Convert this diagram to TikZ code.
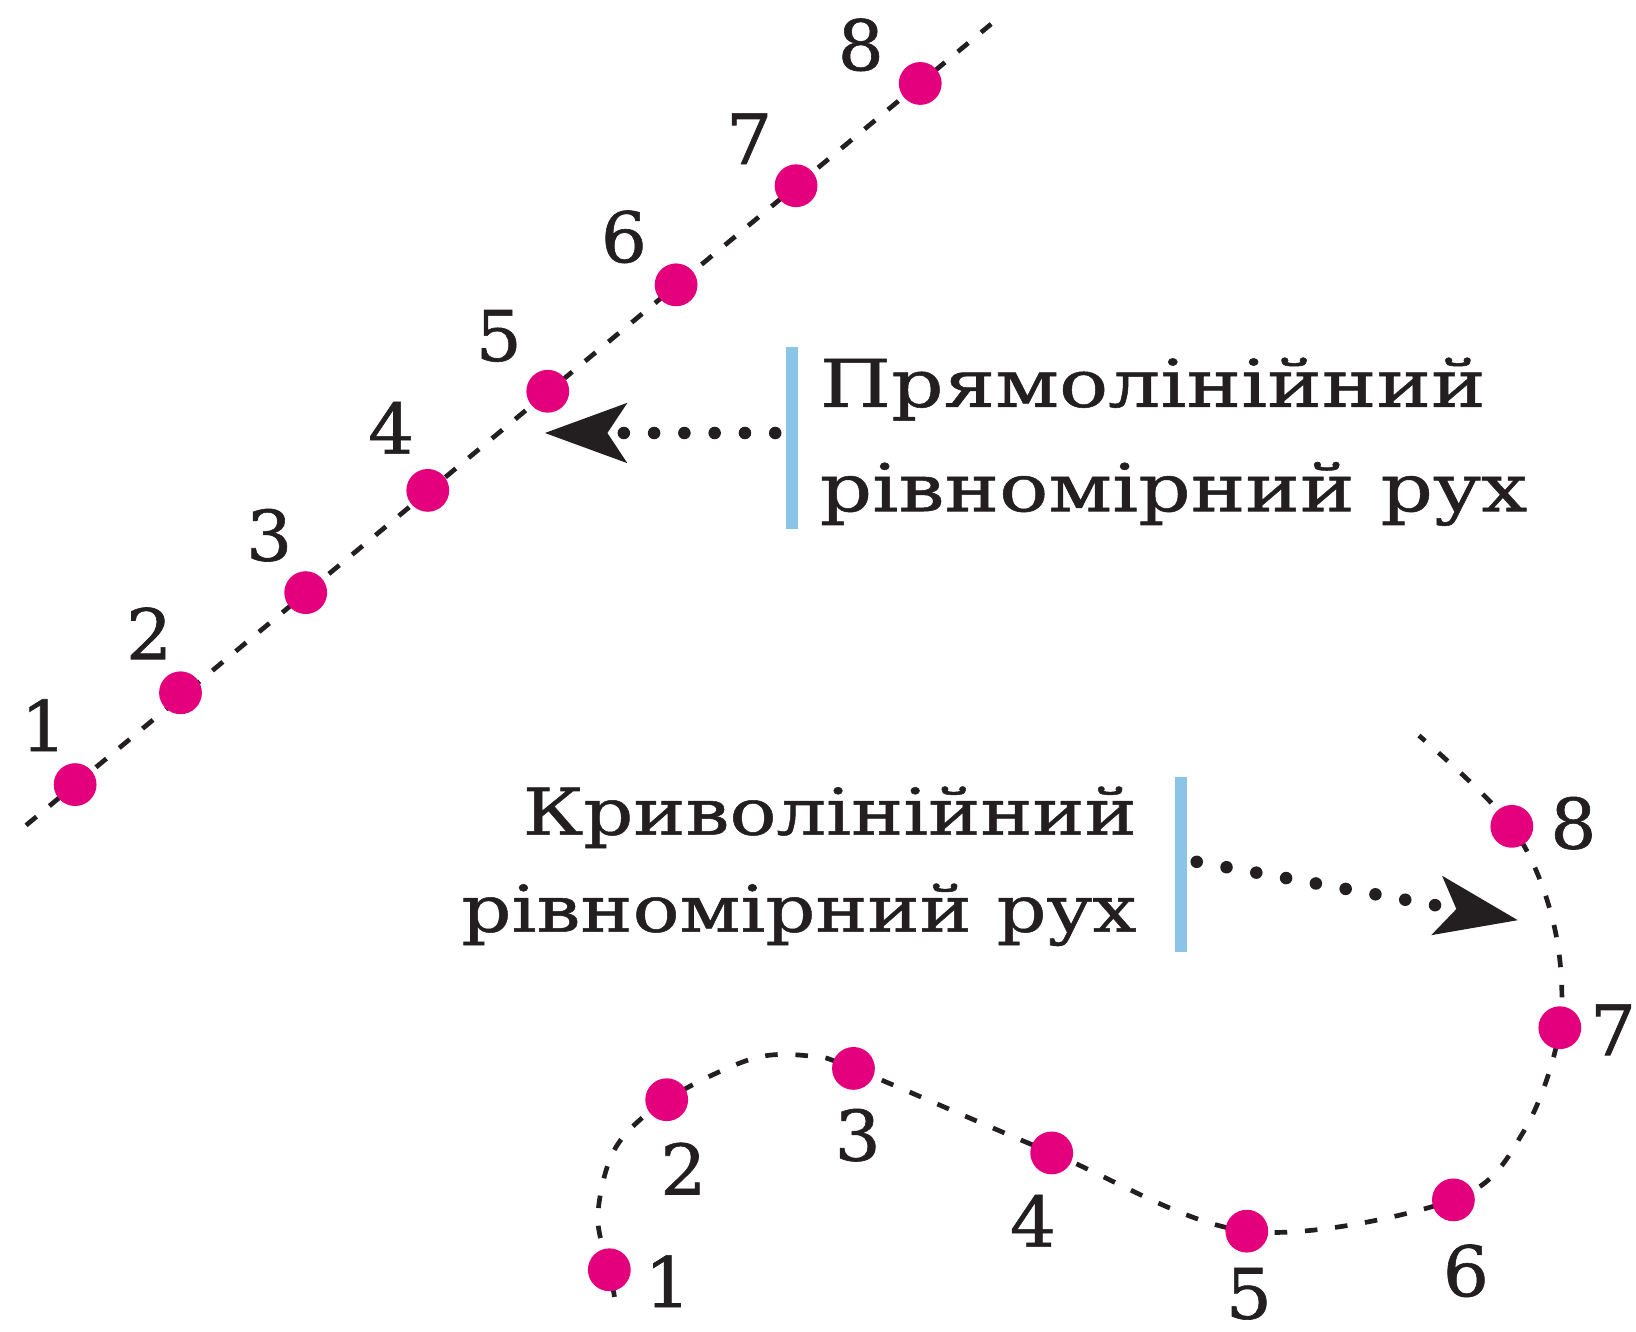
\documentclass[tikz,border=0pt]{standalone}
\usepackage{fontspec}
\setmainfont{DejaVu Serif}[FakeBold=0.8]
\newfontfamily\wideserif{DejaVu Serif}[FakeStretch=1.24,FakeBold=0.8]
\newfontfamily\midserif{DejaVu Serif}[FakeStretch=1.21,FakeBold=0.8]
\newfontfamily\digitserif{DejaVu Serif}[FakeStretch=1.04,FakeBold=0.9]
\usetikzlibrary{arrows.meta}
\definecolor{dotpink}{RGB}{228,0,125}
\definecolor{barblue}{RGB}{140,196,232}
\definecolor{ink}{RGB}{35,31,32}
\begin{document}
\begin{tikzpicture}[x=0.01cm,y=-0.01cm,
  pt/.style={circle,fill=dotpink,inner sep=0pt,minimum size=0.41cm},
  num/.style={font=\digitserif\fontsize{19}{22}\selectfont,text=ink,inner sep=0pt},
  caption/.style={font=\wideserif\fontsize{18}{22}\selectfont,text=ink,inner sep=0pt},
  caption2/.style={font=\midserif\fontsize{17.6}{22}\selectfont,text=ink,inner sep=0pt},
  track/.style={ink,line width=0.045cm,dash pattern=on 0.13cm off 0.16cm},
  pointer/.style={ink,line width=0.12cm,line cap=round,dash pattern=on 0pt off 0.29cm,
    -{Stealth[length=0.78cm,width=0.56cm,inset=0.18cm]}},
  bar/.style={barblue,line width=0.11cm}]
\useasboundingbox (0,0) rectangle (1568,1276);

% straight uniform motion: positions along a line
\coordinate (s0) at (25,791);
\coordinate (s9) at (950,23);
\coordinate (a1) at (72,752);
\coordinate (a2) at (173,664);
\coordinate (a3) at (293,568);
\coordinate (a4) at (410,470);
\coordinate (a5) at (525,375);
\coordinate (a6) at (648,273);
\coordinate (a7) at (763,178);
\coordinate (a8) at (882,80);
\draw[track] (s0) -- (s9);

% curvilinear uniform motion: positions along a curve
\coordinate (c0) at (589,1243);
\coordinate (b1) at (584,1217);
\coordinate (c1) at (573,1165);
\coordinate (c1b) at (590,1100);
\coordinate (b2) at (639,1054);
\coordinate (c2) at (720,1015);
\coordinate (c2b) at (775,1012);
\coordinate (b3) at (818,1024);
\coordinate (b4) at (1008,1105);
\coordinate (b5) at (1195,1180);
\coordinate (b6) at (1393,1150);
\coordinate (c6) at (1460,1085);
\coordinate (b7) at (1495,985);
\coordinate (c7) at (1489,885);
\coordinate (b8) at (1449,792);
\coordinate (c9) at (1360,705);
\draw[track,dash pattern=on 0.12cm off 0.17cm] plot[smooth,tension=0.55] coordinates
  {(c0) (b1) (c1) (c1b) (b2) (c2) (c2b) (b3) (b4) (b5) (b6) (c6) (b7) (c7) (b8) (c9)};

% dots and their numbers
\foreach \i/\lx/\ly in {1/42/695,2/143/607,3/258/513,4/375/410,5/478/322,6/598/227,7/718/133,8/825/43}{
  \node[pt] (A\i) at (a\i) {};
  \node[num] (la\i) at (\lx,\ly) {\i};
}
\foreach \i/\lx/\ly in {1/640/1228,2/655/1120,3/822/1088,4/990/1170,5/1197/1240,6/1405/1218,7/1546/987,8/1508/789}{
  \node[pt] (B\i) at (b\i) {};
  \node[num] (lb\i) at (\lx,\ly) {\i};
}

% captions with their bars and pointers
\node[caption,anchor=base west] (t1) at (785,390) {Прямолінійний};
\node[caption,anchor=base west] (t2) at (785,490) {рівномірний рух};
\draw[bar] (759,333) coordinate (ta) -- (759,507) coordinate (tb);
\coordinate (p1) at (743,415);
\draw[pointer] (p1) -- (522,415) coordinate (q1);

\node[caption2,anchor=base east] (u1) at (1090,800) {Криволінійний};
\node[caption2,anchor=base east] (u2) at (1090,893) {рівномірний рух};
\draw[bar] (1132,745) coordinate (ua) -- (1132,912) coordinate (ub);
\coordinate (p2) at (1147,826);
\draw[pointer] (p2) -- (1455,882) coordinate (q2);
\end{tikzpicture}
\end{document}
